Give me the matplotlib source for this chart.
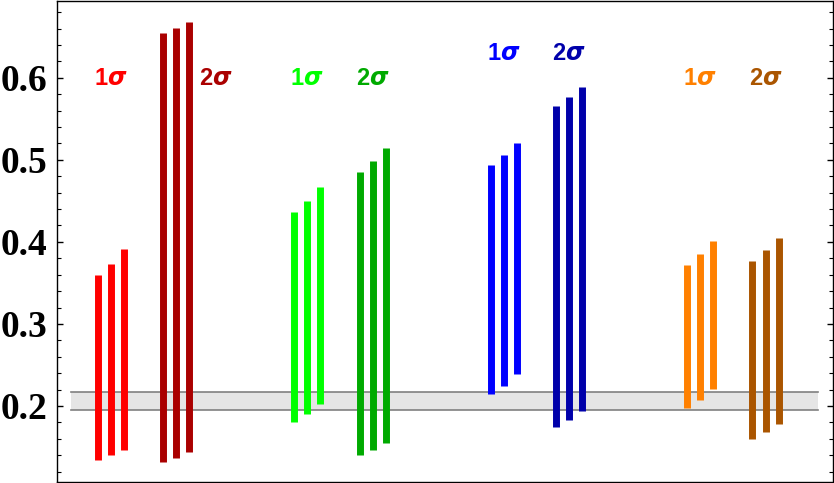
import matplotlib
matplotlib.use("Agg")
import matplotlib.pyplot as plt
from matplotlib.ticker import MultipleLocator

# ---- data ----
groups = ["red 1s", "red 2s", "green 1s", "green 2s", "blue 1s", "blue 2s", "orange 1s", "orange 2s"]
group_x = [1.0, 2.0, 4.0, 5.0, 7.0, 8.0, 10.0, 11.0]
bar_offsets = [0.0, 0.2, 0.4]
lows = [
    [0.1345, 0.1398, 0.1460],
    [0.1317, 0.1366, 0.1435],
    [0.1809, 0.1902, 0.2029],
    [0.1398, 0.1467, 0.1553],
    [0.2143, 0.2248, 0.2387],
    [0.1744, 0.1829, 0.1939],
    [0.1976, 0.2073, 0.2203],
    [0.1601, 0.1679, 0.1780],
]
highs = [
    [0.3598, 0.3736, 0.3915],
    [0.6549, 0.6610, 0.6680],
    [0.4366, 0.4500, 0.4667],
    [0.4850, 0.4984, 0.5146],
    [0.4931, 0.5053, 0.5203],
    [0.5659, 0.5764, 0.5887],
    [0.3723, 0.3850, 0.4008],
    [0.3764, 0.3898, 0.4049],
]
colors = ["#FF0000", "#AA0000", "#00FF00", "#00AA00", "#0000FF", "#0000AA", "#FF8000", "#AA5500"]
label_texts = ["1", "2", "1", "2", "1", "2", "1", "2"]
label_x = [1.2, 2.8, 4.2, 5.2, 7.2, 8.2, 10.2, 11.2]
label_y = [0.599, 0.599, 0.599, 0.599, 0.630, 0.630, 0.599, 0.599]
band_low, band_high = 0.1955, 0.2174
band_x = [0.6, 12.0]
yticks = [0.2, 0.3, 0.4, 0.5, 0.6]

fig = plt.figure(figsize=(8.34, 4.83), dpi=100)
ax = fig.add_axes([0.0683, 0.002, 0.9305, 0.995])

ax.fill_between(band_x, [band_low] * 2, [band_high] * 2, color="#E5E5E5", zorder=1, linewidth=0)
ax.plot(band_x, [band_low] * 2, color="#808080", lw=1.2, zorder=2)
ax.plot(band_x, [band_high] * 2, color="#808080", lw=1.2, zorder=2)

for gx, lo, hi, c in zip(group_x, lows, highs, colors):
    xs = [gx + o for o in bar_offsets]
    lc = ax.vlines(xs, lo, hi, colors=c, linewidth=5.0, zorder=3)
    lc.set_capstyle("butt")

for t, x, y, c in zip(label_texts, label_x, label_y, colors):
    ax.text(x, y, t + r"$\mathbfit{\sigma}$", color=c, ha="center", va="center",
            fontsize=17, fontweight="bold", family="Liberation Sans",
            math_fontfamily="dejavusans")

ax.set_xlim(0.379, 12.23)
ax.set_ylim(0.1073, 0.693)
ax.set_yticks(yticks)
ax.set_yticklabels([f"{v:.1f}" for v in yticks], family="Liberation Serif", fontweight="bold", fontsize=27)
ax.yaxis.set_minor_locator(MultipleLocator(0.02))
ax.tick_params(axis="y", which="both", direction="in", right=True, left=True, pad=7)
ax.tick_params(axis="y", which="major", length=4.5, width=1.0)
ax.tick_params(axis="y", which="minor", length=2.6, width=0.8)
ax.set_xticks([])
for s in ax.spines.values():
    s.set_linewidth(1.0)
    s.set_color("black")

fig.savefig("out.png", dpi=100)
